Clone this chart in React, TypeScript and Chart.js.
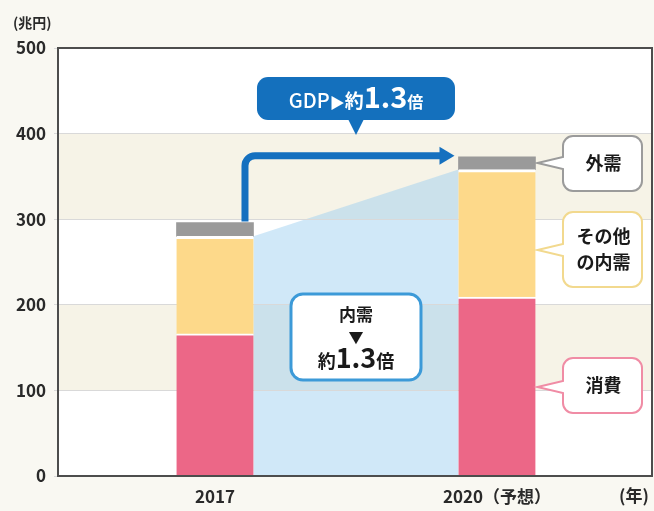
import React, { useEffect, useRef } from "react";
import { Chart, registerables } from "chart.js";

Chart.register(...registerables);

const years = ["2017", "2020（予想）"];
const consumption = [166, 209];
const otherDomestic = [114, 149];
const external = [16, 15];
const yTickValues = [0, 100, 200, 300, 400, 500];
const unitLabel = "(兆円)";
const yearLabel = "(年)";
const seriesNames = ["消費", "その他の内需", "外需"];

const JP = '"Noto Sans CJK JP", "Noto Sans", sans-serif';

function roundRect(ctx: CanvasRenderingContext2D, x: number, y: number, w: number, h: number, r: number) {
  ctx.beginPath();
  ctx.moveTo(x + r, y);
  ctx.lineTo(x + w - r, y);
  ctx.arcTo(x + w, y, x + w, y + r, r);
  ctx.lineTo(x + w, y + h - r);
  ctx.arcTo(x + w, y + h, x + w - r, y + h, r);
  ctx.lineTo(x + r, y + h);
  ctx.arcTo(x, y + h, x, y + h - r, r);
  ctx.lineTo(x, y + r);
  ctx.arcTo(x, y, x + r, y, r);
  ctx.closePath();
}

function callout(
  ctx: CanvasRenderingContext2D,
  x: number, y: number, w: number, h: number, r: number,
  tipX: number, tipY: number, stroke: string, lines: string[]
) {
  ctx.save();
  ctx.beginPath();
  ctx.moveTo(x + r, y);
  ctx.lineTo(x + w - r, y);
  ctx.arcTo(x + w, y, x + w, y + r, r);
  ctx.lineTo(x + w, y + h - r);
  ctx.arcTo(x + w, y + h, x + w - r, y + h, r);
  ctx.lineTo(x + r, y + h);
  ctx.arcTo(x, y + h, x, y + h - r, r);
  ctx.lineTo(x, tipY + 6);
  ctx.lineTo(tipX, tipY);
  ctx.lineTo(x, tipY - 6);
  ctx.lineTo(x, y + r);
  ctx.arcTo(x, y, x + r, y, r);
  ctx.closePath();
  ctx.fillStyle = "#ffffff";
  ctx.fill();
  ctx.strokeStyle = stroke;
  ctx.lineWidth = 2;
  ctx.stroke();
  ctx.fillStyle = "#1a1a1a";
  ctx.font = `bold 18px ${JP}`;
  ctx.textAlign = "center";
  ctx.textBaseline = "middle";
  const cy = y + h / 2;
  const lh = 26;
  lines.forEach((t, i) => {
    ctx.fillText(t, x + w / 2 + 1, cy + (i - (lines.length - 1) / 2) * lh);
  });
  ctx.restore();
}

function drawRuns(ctx: CanvasRenderingContext2D, runs: { t: string; f: string }[], cx: number, baseline: number, color: string) {
  let total = 0;
  const widths = runs.map((r) => {
    ctx.font = r.f;
    const w = ctx.measureText(r.t).width;
    total += w;
    return w;
  });
  let x = cx - total / 2;
  ctx.fillStyle = color;
  ctx.textAlign = "left";
  ctx.textBaseline = "alphabetic";
  runs.forEach((r, i) => {
    ctx.font = r.f;
    ctx.fillText(r.t, x, baseline);
    x += widths[i];
  });
}

const decorPlugin = {
  id: "decor",
  beforeDraw(chart: any) {
    const { ctx, chartArea: a, scales } = chart;
    const y = scales.y;
    ctx.save();
    ctx.fillStyle = "#f9f8f2";
    ctx.fillRect(0, 0, chart.width, chart.height);
    ctx.fillStyle = "#ffffff";
    ctx.fillRect(a.left, a.top, a.right - a.left, a.bottom - a.top);
    ctx.fillStyle = "#f6f3e7";
    [[100, 200], [300, 400]].forEach(([lo, hi]) => {
      ctx.fillRect(a.left, y.getPixelForValue(hi), a.right - a.left, y.getPixelForValue(lo) - y.getPixelForValue(hi));
    });
    // domestic demand growth area
    const m = chart.getDatasetMeta(1);
    const b0 = m.data[0];
    const b1 = m.data[1];
    if (b0 && b1) {
      const d0 = consumption[0] + otherDomestic[0];
      const d1 = consumption[1] + otherDomestic[1];
      const xL = b0.x + b0.width / 2;
      const xR = b1.x - b1.width / 2;
      ctx.beginPath();
      ctx.moveTo(xL, y.getPixelForValue(d0));
      ctx.lineTo(xR, y.getPixelForValue(d1));
      ctx.lineTo(xR, y.getPixelForValue(0));
      ctx.lineTo(xL, y.getPixelForValue(0));
      ctx.closePath();
      ctx.fillStyle = "rgba(150,205,240,0.45)";
      ctx.fill();
    }
    ctx.restore();
  },
  afterDraw(chart: any) {
    const { ctx, chartArea: a, scales } = chart;
    const y = scales.y;
    const m = chart.getDatasetMeta(2);
    const b0 = m.data[0];
    const b1 = m.data[1];
    ctx.save();
    // border
    ctx.strokeStyle = "#4d4d4d";
    ctx.lineWidth = 2;
    ctx.strokeRect(a.left, a.top, a.right - a.left, a.bottom - a.top);

    // arrow
    const t0 = consumption[0] + otherDomestic[0] + external[0];
    const t1 = consumption[1] + otherDomestic[1] + external[1];
    const ax = b0.x + 30;
    const ay0 = y.getPixelForValue(t0) - 1;
    const ayH = y.getPixelForValue(t1) - 1;
    const tip = b1.x - b1.width / 2 - 4;
    const r = 10;
    ctx.strokeStyle = "#1570bf";
    ctx.lineWidth = 7;
    ctx.beginPath();
    ctx.moveTo(ax, ay0);
    ctx.lineTo(ax, ayH + r);
    ctx.arcTo(ax, ayH, ax + r, ayH, r);
    ctx.lineTo(tip - 12, ayH);
    ctx.stroke();
    ctx.fillStyle = "#1570bf";
    ctx.beginPath();
    ctx.moveTo(tip - 15, ayH - 9);
    ctx.lineTo(tip, ayH);
    ctx.lineTo(tip - 15, ayH + 9);
    ctx.closePath();
    ctx.fill();

    // GDP callout
    const gcx = (b0.x + b1.x) / 2;
    ctx.fillStyle = "#1470bd";
    roundRect(ctx, gcx - 99, 77, 198, 43, 11);
    ctx.fill();
    ctx.beginPath();
    ctx.moveTo(gcx - 8, 119);
    ctx.lineTo(gcx + 8, 119);
    ctx.lineTo(gcx, 135);
    ctx.closePath();
    ctx.fill();
    drawRuns(
      ctx,
      [
        { t: "GDP", f: `500 20px ${JP}` },
        { t: "▶", f: `15px ${JP}` },
        { t: "約", f: `bold 19px ${JP}` },
        { t: "1.3", f: `bold 29px ${JP}` },
        { t: "倍", f: `bold 16px ${JP}` },
      ],
      gcx,
      108,
      "#ffffff"
    );

    // domestic demand box
    ctx.fillStyle = "#ffffff";
    ctx.strokeStyle = "#3c9ad8";
    ctx.lineWidth = 3;
    roundRect(ctx, gcx - 65, 294, 130, 86, 12);
    ctx.fill();
    ctx.stroke();
    ctx.fillStyle = "#1a1a1a";
    ctx.font = `bold 17px ${JP}`;
    ctx.textAlign = "center";
    ctx.textBaseline = "middle";
    ctx.fillText("内需", gcx, 315);
    ctx.font = `15px ${JP}`;
    ctx.fillText("▼", gcx, 337);
    drawRuns(
      ctx,
      [
        { t: "約", f: `bold 18px ${JP}` },
        { t: "1.3", f: `bold 27px ${JP}` },
        { t: "倍", f: `bold 18px ${JP}` },
      ],
      gcx,
      368,
      "#1a1a1a"
    );

    // right callouts
    const tipX = b1.x + b1.width / 2 + 2;
    callout(ctx, 563, 136, 79, 55, 10, tipX, 163, "#9b9b9b", [seriesNames[2]]);
    callout(ctx, 563, 212, 79, 75, 10, tipX, 250, "#f2d98e", ["その他", "の内需"]);
    callout(ctx, 563, 358, 79, 55, 10, tipX, 387, "#f08ca5", [seriesNames[0]]);

    // unit labels
    ctx.fillStyle = "#2a2a2a";
    ctx.font = `bold 14px ${JP}`;
    ctx.textAlign = "left";
    ctx.textBaseline = "middle";
    ctx.fillText(unitLabel, 13, 23);
    ctx.font = `bold 17px ${JP}`;
    ctx.textAlign = "center";
    ctx.fillText(yearLabel, 634, 496);
    ctx.restore();
  },
};

export default function App() {
  const ref = useRef<HTMLCanvasElement | null>(null);
  useEffect(() => {
    document.body.style.margin = "0";
    const canvas = ref.current!;
    const mk = (arr: number[]) => arr.map((v, i) => ({ x: i, y: v }));
    const chart = new Chart(canvas, {
      type: "bar",
      data: {
        datasets: [
          {
            label: seriesNames[0],
            data: mk(consumption) as any,
            backgroundColor: "#ec6787",
            borderColor: "#ffffff",
            borderWidth: { top: 2, left: 0, right: 0, bottom: 0 } as any,
            barThickness: 77,
            stack: "s",
          },
          {
            label: seriesNames[1],
            data: mk(otherDomestic) as any,
            backgroundColor: "#fdd98a",
            borderColor: "#ffffff",
            borderWidth: { top: 3, left: 0, right: 0, bottom: 0 } as any,
            barThickness: 77,
            stack: "s",
          },
          {
            label: seriesNames[2],
            data: mk(external) as any,
            backgroundColor: "#9a9a9a",
            borderWidth: 0,
            barThickness: 77,
            stack: "s",
          },
        ],
      },
      options: {
        responsive: false,
        animation: false,
        layout: { padding: { top: 48, right: 2, left: 0, bottom: 0 } },
        plugins: { legend: { display: false }, tooltip: { enabled: false } },
        scales: {
          x: {
            type: "linear",
            stacked: true,
            offset: false,
            min: -0.5567,
            max: 1.5497,
            grid: { display: false, drawTicks: false, offset: false },
            border: { display: false },
            afterBuildTicks: (s: any) => {
              s.ticks = years.map((_, i) => ({ value: i }));
            },
            afterFit: (s: any) => {
              s.height = 35;
            },
            ticks: {
              padding: 10,
              maxRotation: 0,
              autoSkip: false,
              color: "#2a2a2a",
              font: { family: JP, size: 17, weight: "600" as any },
              callback: (v: any) => years[Math.round(Number(v))] ?? "",
            },
          },
          y: {
            stacked: true,
            min: 0,
            max: 500,
            border: { display: false },
            grid: { color: "#d9d9d9", lineWidth: 1, tickLength: 4 },
            afterBuildTicks: (s: any) => {
              s.ticks = yTickValues.map((v) => ({ value: v }));
            },
            afterFit: (s: any) => {
              s.width = 58;
            },
            ticks: {
              padding: 8,
              color: "#2a2a2a",
              font: { family: JP, size: 17, weight: "600" as any },
            },
          },
        },
      },
      plugins: [decorPlugin],
    });
    return () => chart.destroy();
  }, []);
  return <canvas ref={ref} width={654} height={511} style={{ display: "block" }} />;
}
